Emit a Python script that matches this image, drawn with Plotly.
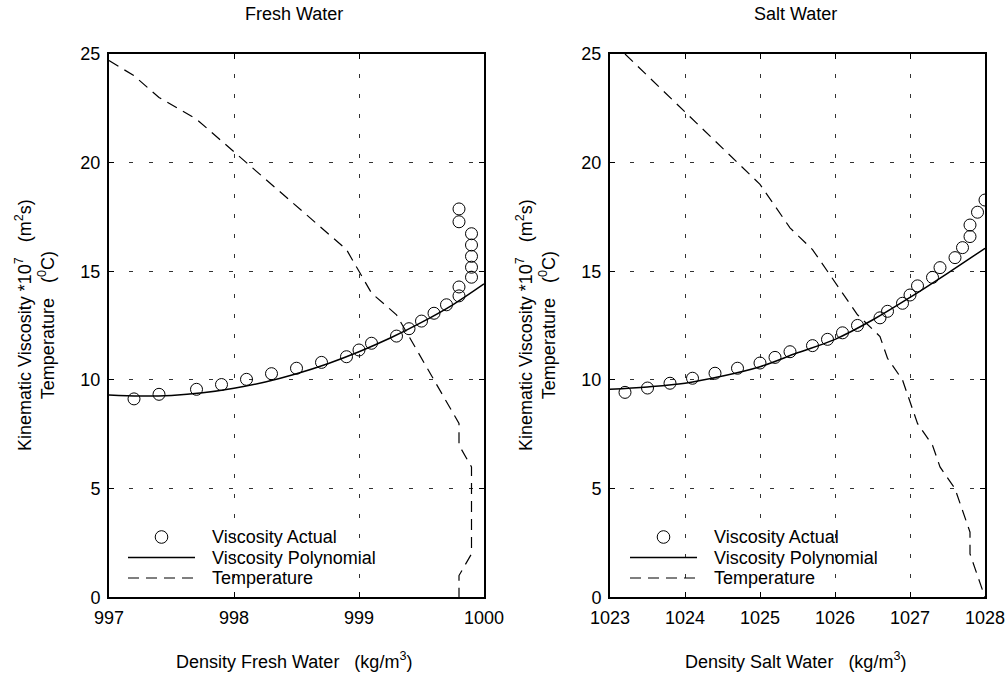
import plotly.graph_objects as go

# ---------------- Data ----------------
# Fresh water (temperatures 24 ... 0 degC)
fresh_density = [997.2, 997.4, 997.7, 997.9, 998.1, 998.3, 998.5, 998.7, 998.9, 999.0,
                 999.1, 999.3, 999.4, 999.5, 999.6, 999.7, 999.8, 999.8, 999.9, 999.9,
                 999.9, 999.9, 999.9, 999.8, 999.8]
fresh_visc = [9.13, 9.34, 9.57, 9.79, 10.03, 10.29, 10.54, 10.81, 11.07, 11.38,
              11.69, 12.02, 12.36, 12.71, 13.07, 13.46, 13.87, 14.28, 14.73, 15.19,
              15.69, 16.21, 16.73, 17.28, 17.87]
fresh_temp_density = [997.0] + fresh_density
fresh_temp = [24.7, 24, 23, 22, 21, 20, 19, 18, 17, 16, 15, 14, 13, 12, 11, 10,
              9, 8, 7, 6, 5, 4, 3, 2, 1, 0]
fresh_poly_x = [997.0, 997.25, 997.5, 997.75, 998.0, 998.25, 998.5, 998.75,
                999.0, 999.25, 999.5, 999.75, 1000.0]
fresh_poly_y = [9.31, 9.26, 9.29, 9.41, 9.62, 9.91, 10.29, 10.75,
                11.30, 11.93, 12.65, 13.46, 14.42]

# Salt water (temperatures 25 ... 0 degC)
salt_density = [1023.2, 1023.5, 1023.8, 1024.1, 1024.4, 1024.7, 1025.0, 1025.2, 1025.4,
                1025.7, 1025.9, 1026.1, 1026.3, 1026.6, 1026.7, 1026.9, 1027.0, 1027.1,
                1027.3, 1027.4, 1027.6, 1027.7, 1027.8, 1027.8, 1027.9, 1028.0]
salt_visc = [9.43, 9.63, 9.85, 10.08, 10.31, 10.54, 10.78, 11.04, 11.30,
             11.58, 11.87, 12.17, 12.51, 12.86, 13.16, 13.53, 13.91, 14.33,
             14.72, 15.17, 15.63, 16.09, 16.60, 17.13, 17.72, 18.28]
salt_temp = [25, 24, 23, 22, 21, 20, 19, 18, 17, 16, 15, 14, 13, 12, 11, 10,
             9, 8, 7, 6, 5, 4, 3, 2, 1, 0]
salt_poly_x = [1023.0, 1023.5, 1024.0, 1024.5, 1025.0, 1025.5, 1026.0, 1026.5,
               1027.0, 1027.5, 1028.0]
salt_poly_y = [9.57, 9.68, 9.85, 10.18, 10.61, 11.25, 11.87, 12.76,
               13.80, 14.91, 16.06]

fresh_ticks = [997, 998, 999, 1000]
salt_ticks = [1023, 1024, 1025, 1026, 1027, 1028]
y_ticks = [0, 5, 10, 15, 20, 25]

series_names = ["Viscosity Actual", "Viscosity Polynomial", "Temperature"]

# ---------------- Figure ----------------
W, H = 1006, 675
FONT = "Liberation Sans, Arial, Helvetica, sans-serif"
FS = 18
TEMP_DASH = "11px,7px"

fig = go.Figure()

def add_panel(xa, ya, dens, visc, tdens, temp, px_, py_):
    fig.add_trace(go.Scatter(
        x=dens, y=visc, mode="markers", name=series_names[0],
        marker=dict(symbol="circle-open", size=12, color="black",
                    line=dict(color="black", width=1)),
        xaxis=xa, yaxis=ya, showlegend=False))
    fig.add_trace(go.Scatter(
        x=px_, y=py_, mode="lines", name=series_names[1],
        line=dict(color="black", width=1.5, shape="spline"),
        xaxis=xa, yaxis=ya, showlegend=False))
    fig.add_trace(go.Scatter(
        x=tdens, y=temp, mode="lines", name=series_names[2],
        line=dict(color="black", width=1.2, dash=TEMP_DASH),
        xaxis=xa, yaxis=ya, showlegend=False))

add_panel("x", "y", fresh_density, fresh_visc,
          fresh_temp_density, fresh_temp, fresh_poly_x, fresh_poly_y)
add_panel("x2", "y2", salt_density, salt_visc,
          salt_density, salt_temp, salt_poly_x, salt_poly_y)

def fx(px):
    return px / W

def fy(py):
    return 1 - py / H

y_dom = [fy(597.3), fy(54)]

axis_common = dict(
    showline=True, linewidth=2, linecolor="black", mirror="ticks",
    ticks="inside", ticklen=5, tickwidth=1, tickcolor="black",
    showgrid=True, gridcolor="#333333", gridwidth=1, griddash="4px,16px",
    zeroline=False, automargin=False,
    tickfont=dict(family=FONT, size=FS, color="black"),
    ticklabelstandoff=3,
)

fig.update_layout(
    width=W, height=H,
    margin=dict(l=0, r=0, t=0, b=0, autoexpand=False),
    paper_bgcolor="white", plot_bgcolor="white",
    font=dict(family=FONT, size=FS, color="black"),
    showlegend=False,
    xaxis=dict(domain=[fx(109), fx(484)], range=[997, 1000],
               tickvals=fresh_ticks, anchor="y", **axis_common),
    yaxis=dict(domain=y_dom, range=[0, 25], tickvals=y_ticks, anchor="x", **axis_common),
    xaxis2=dict(domain=[fx(610), fx(985)], range=[1023, 1028],
                tickvals=salt_ticks, anchor="y2", **axis_common),
    yaxis2=dict(domain=y_dom, range=[0, 25], tickvals=y_ticks, anchor="x2", **axis_common),
)

ytitle = ("Kinematic Viscosity *10<sup>7</sup>\u00a0\u00a0\u00a0(m<sup>2</sup>s)<br>"
          "Temperature\u00a0\u00a0\u00a0(<sup>0</sup>C)")

txt_font = dict(family=FONT, size=FS, color="black")
annotations = [
    dict(text="Fresh Water", x=fx(294), y=fy(14), xref="paper", yref="paper",
         showarrow=False, xanchor="center", yanchor="middle", font=txt_font),
    dict(text="Salt Water", x=fx(795), y=fy(14), xref="paper", yref="paper",
         showarrow=False, xanchor="center", yanchor="middle", font=txt_font),
    dict(text="Density Fresh Water\u00a0\u00a0\u00a0(kg/m<sup>3</sup>)", x=fx(294),
         y=fy(660), xref="paper", yref="paper", showarrow=False,
         xanchor="center", yanchor="middle", font=txt_font),
    dict(text="Density Salt Water\u00a0\u00a0\u00a0(kg/m<sup>3</sup>)", x=fx(795),
         y=fy(660), xref="paper", yref="paper", showarrow=False,
         xanchor="center", yanchor="middle", font=txt_font),
    dict(text=ytitle, x=fx(35), y=fy(325), xref="paper", yref="paper",
         showarrow=False, textangle=-90, xanchor="center", yanchor="middle",
         font=txt_font),
    dict(text=ytitle, x=fx(536), y=fy(325), xref="paper", yref="paper",
         showarrow=False, textangle=-90, xanchor="center", yanchor="middle",
         font=txt_font),
]

# ---------------- Manual legends (one per panel) ----------------
shapes = []
row_y = [537, 557.5, 578]
for sym_left in (128, 630):
    sym_right = sym_left + 67
    sym_mid = (sym_left + sym_right) / 2
    text_x = sym_left + 82
    # circle key
    r = 6.3
    shapes.append(dict(type="circle", xref="paper", yref="paper",
                       x0=fx(sym_mid - r), x1=fx(sym_mid + r),
                       y0=fy(row_y[0] + r), y1=fy(row_y[0] - r),
                       line=dict(color="black", width=1), fillcolor="rgba(0,0,0,0)"))
    # solid line key
    shapes.append(dict(type="line", xref="paper", yref="paper",
                       x0=fx(sym_left), x1=fx(sym_right), y0=fy(row_y[1]), y1=fy(row_y[1]),
                       line=dict(color="black", width=1.5)))
    # dashed line key
    shapes.append(dict(type="line", xref="paper", yref="paper",
                       x0=fx(sym_left), x1=fx(sym_right), y0=fy(row_y[2]), y1=fy(row_y[2]),
                       line=dict(color="black", width=1.2, dash=TEMP_DASH)))
    for name, ry in zip(series_names, row_y):
        annotations.append(dict(text=name, x=fx(text_x), y=fy(ry), xref="paper",
                                yref="paper", showarrow=False, xanchor="left",
                                yanchor="middle", font=txt_font))

fig.update_layout(annotations=annotations, shapes=shapes)

fig.write_html("out.html")
